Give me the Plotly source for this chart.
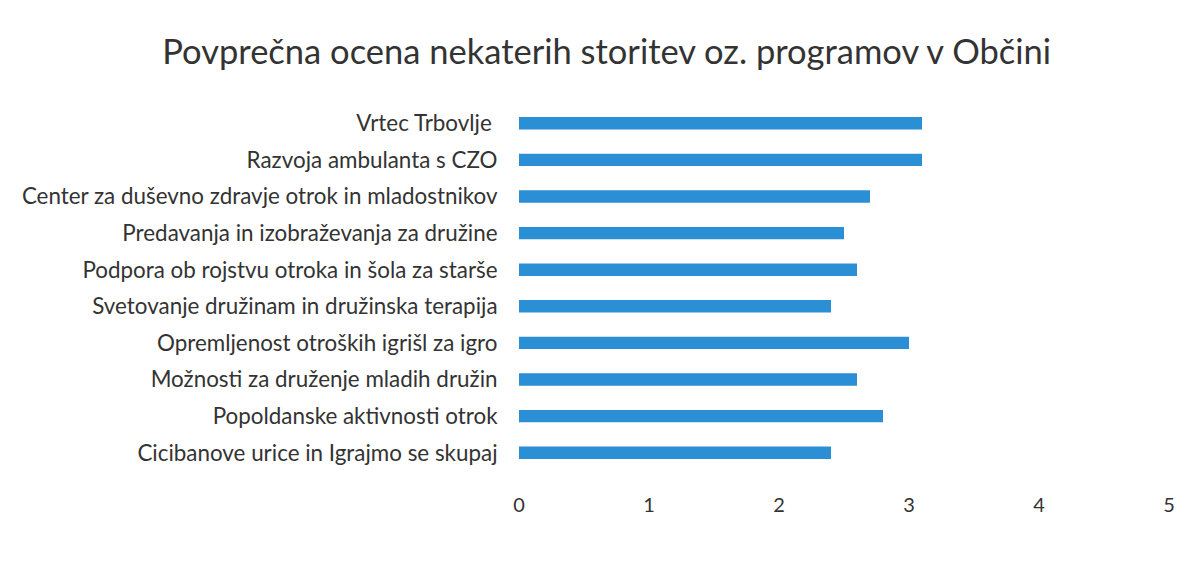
import plotly.graph_objects as go

categories = [
    "Vrtec Trbovlje ",
    "Razvoja ambulanta s CZO",
    "Center za duševno zdravje otrok in mladostnikov",
    "Predavanja in izobraževanja za družine",
    "Podpora ob rojstvu otroka in šola za starše",
    "Svetovanje družinam in družinska terapija",
    "Opremljenost otroških igrišl za igro",
    "Možnosti za druženje mladih družin",
    "Popoldanske aktivnosti otrok",
    "Cicibanove urice in Igrajmo se skupaj",
]
values = [3.1, 3.1, 2.7, 2.5, 2.6, 2.4, 3.0, 2.6, 2.8, 2.4]
x_ticks = [0, 1, 2, 3, 4, 5]

fig = go.Figure(go.Bar(
    x=values, y=categories, orientation="h",
    marker=dict(color="#2a8fd4", line=dict(width=0)),
    hoverinfo="x+y",
))

fig.update_layout(
    width=1195, height=568,
    margin=dict(l=511, r=34, t=97, b=105),
    paper_bgcolor="white", plot_bgcolor="white",
    font=dict(family="Lato, Open Sans, sans-serif", color="#333333", size=22),
    title=dict(text="Povprečna ocena nekaterih storitev oz. programov v Občini",
               x=0.501, xanchor="center", y=0.9225, yanchor="middle",
               font=dict(size=34.5, color="#333333")),
    bargap=0.66,
    showlegend=False,
)
fig.update_xaxes(range=[0, 5], tickvals=x_ticks, showgrid=False, zeroline=False,
                 showline=False, ticks="outside", ticklen=16, tickcolor="rgba(0,0,0,0)",
                 tickfont=dict(size=20))
fig.update_yaxes(autorange="reversed", showgrid=False, zeroline=False, showline=False,
                 ticks="outside", ticklen=16, tickcolor="rgba(0,0,0,0)",
                 tickfont=dict(size=22.4))

fig.write_html("out.html")
